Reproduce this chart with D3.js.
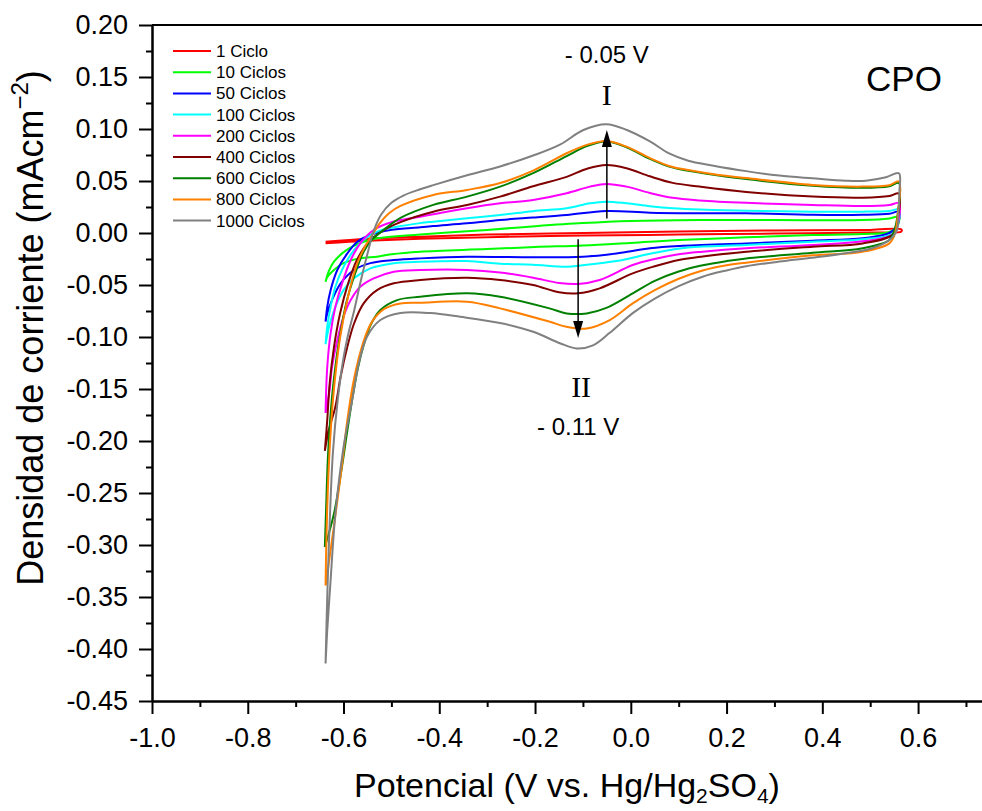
<!DOCTYPE html>
<html><head><meta charset="utf-8">
<script src="https://cdn.jsdelivr.net/npm/d3@7"></script>
<style>body{margin:0;background:#fff}svg{display:block}</style>
</head><body>
<svg id="chart" width="982" height="811"></svg>
<script>
// ---------- DATA ----------
const cycleLabels = ["1 Ciclo","10 Ciclos","50 Ciclos","100 Ciclos","200 Ciclos","400 Ciclos","600 Ciclos","800 Ciclos","1000 Ciclos"];
const cycleColors = ["#ff0000","#00ff00","#0000ff","#00ffff","#ff00ff","#800000","#008000","#ff8000","#808080"];

const xTickValues = [-1.0,-0.8,-0.6,-0.4,-0.2,0.0,0.2,0.4,0.6];
const xTickLabels = ["-1.0","-0.8","-0.6","-0.4","-0.2","0.0","0.2","0.4","0.6"];
const yTickValues = [0.20,0.15,0.10,0.05,0.00,-0.05,-0.10,-0.15,-0.20,-0.25,-0.30,-0.35,-0.40,-0.45];
const yTickLabels = ["0.20","0.15","0.10","0.05","0.00","-0.05","-0.10","-0.15","-0.20","-0.25","-0.30","-0.35","-0.40","-0.45"];

// each loop: forward (anodic) scan from -0.64 V to 0.56 V, then return scan
const cv1 = [[-0.6375,-0.0085],[-0.55,-0.0055],[-0.44,-0.0035],[-0.3,-0.0015],[-0.1,0.0],[0.1,0.0015],[0.3,0.0025],[0.5,0.003],[0.565,0.0035],
  [0.565,0.0015],[0.5,0.0005],[0.3,-0.0005],[0.1,-0.0015],[-0.1,-0.0025],[-0.3,-0.004],[-0.44,-0.0055],[-0.55,-0.0075],[-0.6375,-0.0099]];

const cv10 = [[-0.6375,-0.047],[-0.631,-0.037],[-0.62,-0.0276],[-0.603,-0.0196],[-0.582,-0.013],[-0.558,-0.0084],[-0.53,-0.0051],[-0.44,-0.0015],[-0.3,0.003],[-0.2,0.0065],[-0.1,0.0095],[0.0,0.0115],[0.144,0.0125],[0.3,0.0125],[0.484,0.0125],[0.54,0.014],[0.56,0.0157],
  [0.556,0.006],[0.54,0.001],[0.484,-0.001],[0.38,-0.002],[0.241,-0.0042],[0.102,-0.0067],[0.0,-0.0095],[-0.1,-0.012],[-0.2,-0.0135],[-0.3,-0.0155],[-0.44,-0.018],[-0.5,-0.0205],[-0.53,-0.0228],[-0.565,-0.0244],[-0.6,-0.029],[-0.62,-0.0356],[-0.634,-0.0426],[-0.6375,-0.047]];

const cv50 = [[-0.6375,-0.0853],[-0.634,-0.071],[-0.627,-0.055],[-0.613,-0.0356],[-0.592,-0.0196],[-0.571,-0.0084],[-0.544,-0.0019],[-0.502,0.0029],[-0.44,0.0055],[-0.4125,0.0067],[-0.342,0.0093],[-0.273,0.0125],[-0.204,0.0149],[-0.134,0.0173],[-0.051,0.0212],[0.04,0.0195],[0.144,0.019],[0.241,0.019],[0.38,0.0175],[0.484,0.0175],[0.54,0.0185],[0.56,0.0205],
  [0.557,0.008],[0.54,0.0],[0.484,-0.005],[0.38,-0.0074],[0.241,-0.01],[0.102,-0.0125],[0.04,-0.0147],[-0.03,-0.0196],[-0.1,-0.0228],[-0.204,-0.0234],[-0.342,-0.0228],[-0.44,-0.0244],[-0.495,-0.026],[-0.544,-0.029],[-0.578,-0.0356],[-0.606,-0.0484],[-0.624,-0.0645],[-0.634,-0.0773],[-0.6375,-0.0853]];

const cv100 = [[-0.6375,-0.107],[-0.634,-0.09],[-0.627,-0.071],[-0.617,-0.0517],[-0.6,-0.0324],[-0.578,-0.0164],[-0.558,-0.0067],[-0.53,0.0013],[-0.488,0.006],[-0.44,0.0095],[-0.4125,0.0109],[-0.342,0.0141],[-0.273,0.0173],[-0.204,0.021],[-0.134,0.0238],[-0.085,0.0286],[-0.051,0.0301],[-0.009,0.0286],[0.04,0.0258],[0.0875,0.0238],[0.144,0.0225],[0.241,0.0215],[0.38,0.0205],[0.484,0.0205],[0.54,0.0212],[0.56,0.0225],
  [0.557,0.008],[0.545,-0.001],[0.484,-0.006],[0.38,-0.0083],[0.241,-0.0115],[0.12,-0.014],[0.05,-0.019],[-0.03,-0.027],[-0.1,-0.031],[-0.134,-0.0324],[-0.204,-0.0305],[-0.273,-0.0295],[-0.342,-0.027],[-0.44,-0.0276],[-0.495,-0.029],[-0.544,-0.034],[-0.578,-0.0436],[-0.6,-0.0549],[-0.617,-0.071],[-0.63,-0.09],[-0.6375,-0.107]];

const cv200 = [[-0.6375,-0.173],[-0.634,-0.129],[-0.627,-0.0965],[-0.617,-0.071],[-0.603,-0.0484],[-0.585,-0.026],[-0.565,-0.0099],[-0.537,0.0029],[-0.495,0.011],[-0.44,0.0157],[-0.4125,0.018],[-0.342,0.0238],[-0.273,0.0285],[-0.204,0.0318],[-0.134,0.0382],[-0.085,0.0446],[-0.051,0.0472],[-0.009,0.0446],[0.04,0.0385],[0.0875,0.0338],[0.144,0.0313],[0.241,0.029],[0.38,0.027],[0.484,0.026],[0.54,0.027],[0.56,0.0286],
  [0.557,0.008],[0.545,-0.002],[0.484,-0.008],[0.38,-0.0115],[0.241,-0.0147],[0.15,-0.018],[0.1,-0.0205],[0.05,-0.025],[0.004,-0.0308],[-0.065,-0.0452],[-0.11,-0.049],[-0.15,-0.048],[-0.204,-0.043],[-0.273,-0.038],[-0.342,-0.0355],[-0.44,-0.0356],[-0.495,-0.0372],[-0.537,-0.0436],[-0.565,-0.0517],[-0.585,-0.0645],[-0.6,-0.0805],[-0.613,-0.103],[-0.624,-0.129],[-0.63,-0.154],[-0.6375,-0.173]];

const cv400 = [[-0.639,-0.2095],[-0.634,-0.18],[-0.629,-0.145],[-0.62,-0.11],[-0.607,-0.077],[-0.59,-0.048],[-0.572,-0.026],[-0.55,-0.0099],[-0.515,0.003],[-0.481,0.0105],[-0.4125,0.0205],[-0.342,0.027],[-0.273,0.035],[-0.204,0.045],[-0.134,0.054],[-0.09,0.062],[-0.051,0.0654],[-0.009,0.0623],[0.04,0.0545],[0.0875,0.0482],[0.144,0.0446],[0.241,0.0395],[0.38,0.035],[0.484,0.034],[0.54,0.0356],[0.56,0.038],
  [0.558,0.015],[0.548,-0.001],[0.484,-0.01],[0.38,-0.0132],[0.241,-0.018],[0.15,-0.0225],[0.1,-0.026],[0.05,-0.032],[0.004,-0.0388],[-0.065,-0.0532],[-0.11,-0.058],[-0.15,-0.057],[-0.204,-0.05],[-0.273,-0.0452],[-0.342,-0.043],[-0.44,-0.0452],[-0.495,-0.0484],[-0.53,-0.0549],[-0.558,-0.0677],[-0.578,-0.087],[-0.592,-0.1094],[-0.606,-0.138],[-0.617,-0.167],[-0.631,-0.19],[-0.639,-0.2095]];

const cv600 = [[-0.639,-0.302],[-0.636,-0.26],[-0.633,-0.22],[-0.628,-0.18],[-0.62,-0.14],[-0.608,-0.1],[-0.593,-0.065],[-0.575,-0.038],[-0.558,-0.018],[-0.54,-0.006],[-0.516,0.003],[-0.481,0.0145],[-0.4125,0.027],[-0.342,0.035],[-0.273,0.0446],[-0.204,0.0575],[-0.134,0.074],[-0.092,0.0835],[-0.051,0.088],[-0.009,0.0825],[0.04,0.0712],[0.08,0.0638],[0.12,0.0598],[0.18,0.0555],[0.241,0.0518],[0.38,0.0455],[0.484,0.0435],[0.54,0.045],[0.56,0.048],
  [0.558,0.02],[0.55,0.002],[0.54,-0.0067],[0.484,-0.0147],[0.38,-0.019],[0.241,-0.0245],[0.2,-0.027],[0.15,-0.031],[0.1,-0.037],[0.05,-0.046],[0.004,-0.058],[-0.051,-0.072],[-0.092,-0.0773],[-0.134,-0.0773],[-0.17,-0.0725],[-0.273,-0.0613],[-0.342,-0.058],[-0.44,-0.0613],[-0.488,-0.0645],[-0.523,-0.074],[-0.543,-0.088],[-0.558,-0.108],[-0.57,-0.13],[-0.58,-0.155],[-0.592,-0.19],[-0.605,-0.23],[-0.62,-0.27],[-0.639,-0.302]];

const cv800 = [[-0.6375,-0.339],[-0.636,-0.3],[-0.633,-0.25],[-0.628,-0.2],[-0.62,-0.15],[-0.607,-0.1],[-0.59,-0.06],[-0.572,-0.03],[-0.555,-0.013],[-0.54,-0.002],[-0.525,0.009],[-0.505,0.019],[-0.481,0.026],[-0.4125,0.0366],[-0.342,0.0414],[-0.273,0.048],[-0.204,0.06],[-0.134,0.0767],[-0.092,0.0847],[-0.051,0.0885],[-0.009,0.083],[0.04,0.072],[0.08,0.0645],[0.12,0.0605],[0.18,0.056],[0.241,0.0528],[0.38,0.0462],[0.484,0.0446],[0.54,0.046],[0.56,0.0495],
  [0.558,0.02],[0.552,0.0],[0.54,-0.01],[0.484,-0.018],[0.38,-0.0215],[0.241,-0.0285],[0.2,-0.031],[0.15,-0.036],[0.1,-0.044],[0.05,-0.055],[0.004,-0.0677],[-0.044,-0.0837],[-0.092,-0.0918],[-0.134,-0.0902],[-0.169,-0.0854],[-0.273,-0.0725],[-0.342,-0.0661],[-0.44,-0.067],[-0.481,-0.0677],[-0.515,-0.073],[-0.54,-0.085],[-0.555,-0.1],[-0.568,-0.12],[-0.58,-0.145],[-0.592,-0.18],[-0.605,-0.23],[-0.618,-0.275],[-0.63,-0.315],[-0.6375,-0.339]];

const cv1000 = [[-0.6375,-0.414],[-0.634,-0.35],[-0.629,-0.28],[-0.622,-0.21],[-0.612,-0.16],[-0.6,-0.12],[-0.589,-0.095],[-0.578,-0.075],[-0.565,-0.048],[-0.55,-0.02],[-0.537,0.002],[-0.521,0.018],[-0.50,0.029],[-0.475,0.036],[-0.44,0.042],[-0.4125,0.046],[-0.342,0.0555],[-0.273,0.064],[-0.204,0.0745],[-0.148,0.085],[-0.099,0.099],[-0.051,0.1046],[-0.008,0.099],[0.04,0.088],[0.08,0.0765],[0.12,0.0695],[0.17,0.065],[0.241,0.0595],[0.31,0.0552],[0.379,0.0526],[0.449,0.0503],[0.491,0.0503],[0.533,0.0536],[0.56,0.0574],
  [0.561,0.04],[0.559,0.02],[0.556,0.003],[0.54,-0.0067],[0.504,-0.0147],[0.449,-0.0195],[0.379,-0.0238],[0.31,-0.0275],[0.241,-0.032],[0.2,-0.036],[0.15,-0.042],[0.1,-0.051],[0.05,-0.063],[0.004,-0.077],[-0.044,-0.096],[-0.079,-0.108],[-0.113,-0.111],[-0.148,-0.106],[-0.204,-0.095],[-0.273,-0.0866],[-0.356,-0.0806],[-0.419,-0.077],[-0.481,-0.077],[-0.523,-0.0837],[-0.551,-0.0998],[-0.568,-0.125],[-0.582,-0.161],[-0.6,-0.206],[-0.617,-0.27],[-0.627,-0.334],[-0.634,-0.382],[-0.6375,-0.414]];

const cvSeries = [cv1, cv10, cv50, cv100, cv200, cv400, cv600, cv800, cv1000];

// peak annotations (potential, current from, current to)
const peakOx = {E:-0.05, from:0.014, to:0.099, label:"- 0.05 V", roman:"I"};
const peakRed = {E:-0.11, from:-0.006, to:-0.101, label:"- 0.11 V", roman:"II"};

// ---------- CHART ----------
const svg = d3.select("#chart");
const L = 152, R = 982, T = 25, B = 701;
const x = d3.scaleLinear().domain([-1.0, 0.7335]).range([L, R]);
const y = d3.scaleLinear().domain([-0.45, 0.20]).range([B, T]);
const FONT = "Liberation Sans, Arial, Helvetica, sans-serif";

svg.append("defs").append("clipPath").attr("id","clip")
  .append("rect").attr("x",L).attr("y",T).attr("width",R-L).attr("height",B-T);

const line = d3.line().x(d=>x(d[0])).y(d=>y(d[1])).curve(d3.curveCatmullRom.alpha(0.5));
const gLines = svg.append("g").attr("clip-path","url(#clip)");
cvSeries.forEach((s,i)=>{
  gLines.append("path").attr("d",line(s)).attr("fill","none")
    .attr("stroke",cycleColors[i]).attr("stroke-width",2).attr("stroke-linejoin","round");
});

// axes
const minorX = d3.range(-1.0, 0.7335, 0.1).filter(v=>Math.abs(Math.round(v*10)%2)===1);
const minorY = d3.range(-0.45, 0.2001, 0.025).filter(v=>Math.abs(Math.round(v*1000)%50)!==0);

const gx = svg.append("g").attr("transform",`translate(0,${B})`)
  .call(d3.axisBottom(x).tickValues(xTickValues).tickFormat((d,i)=>xTickLabels[i]).tickSize(13).tickSizeOuter(0).tickPadding(14));
const gxm = svg.append("g").attr("transform",`translate(0,${B})`)
  .call(d3.axisBottom(x).tickValues(minorX).tickFormat("").tickSize(6).tickSizeOuter(0));
const gy = svg.append("g").attr("transform",`translate(${L},0)`)
  .call(d3.axisLeft(y).tickValues(yTickValues).tickFormat((d,i)=>yTickLabels[i]).tickSize(13).tickSizeOuter(0).tickPadding(11));
const gym = svg.append("g").attr("transform",`translate(${L},0)`)
  .call(d3.axisLeft(y).tickValues(minorY).tickFormat("").tickSize(6).tickSizeOuter(0));
[gx,gxm,gy,gym].forEach(g=>{
  g.selectAll("path.domain").attr("stroke","#000").attr("stroke-width",2);
  g.selectAll(".tick line").attr("stroke","#000").attr("stroke-width",2);
  g.selectAll("text").attr("font-family",FONT).attr("font-size",27).attr("fill","#000");
});
// top border
svg.append("line").attr("x1",L).attr("x2",R).attr("y1",T).attr("y2",T).attr("stroke","#000").attr("stroke-width",2);

// axis titles
const xt = svg.append("text").attr("x",567).attr("y",797).attr("text-anchor","middle")
  .attr("font-family",FONT).attr("font-size",34).attr("fill","#000");
xt.append("tspan").text("Potencial (V vs. Hg/Hg");
xt.append("tspan").attr("font-size",21).attr("dy",6).text("2");
xt.append("tspan").attr("dy",-6).text("SO");
xt.append("tspan").attr("font-size",21).attr("dy",6).text("4");
xt.append("tspan").attr("dy",-6).text(")");

const yt = svg.append("text").attr("transform","translate(43,328) rotate(-90)").attr("text-anchor","middle")
  .attr("font-family",FONT).attr("font-size",36).attr("fill","#000");
yt.append("tspan").text("Densidad de corriente (mAcm");
yt.append("tspan").attr("font-size",24).attr("dy",-15).text("\u22122");
yt.append("tspan").attr("dy",15).text(")");

// legend
const lg = svg.append("g");
cycleLabels.forEach((lab,i)=>{
  const yy = 51 + i*21.2;
  lg.append("line").attr("x1",173).attr("x2",211).attr("y1",yy).attr("y2",yy)
    .attr("stroke",cycleColors[i]).attr("stroke-width",2);
  lg.append("text").attr("x",216).attr("y",yy+6).attr("font-family",FONT).attr("font-size",17)
    .attr("fill","#000").text(lab);
});

// arrows
function arrow(p){
  const xs = x(p.E), y0 = y(p.from), y1 = y(p.to);
  const dir = y1 < y0 ? 1 : -1; // 1 = pointing up
  const headL = 17, headW = 5;
  svg.append("line").attr("x1",xs).attr("x2",xs).attr("y1",y0).attr("y2",y1+dir*headL*0.6)
    .attr("stroke","#000").attr("stroke-width",1.5);
  svg.append("path").attr("d",`M${xs},${y1} L${xs-headW},${y1+dir*headL} L${xs+headW},${y1+dir*headL} Z`).attr("fill","#000");
}
arrow(peakOx); arrow(peakRed);

// labels
svg.append("text").attr("x",x(peakOx.E)).attr("y",63).attr("text-anchor","middle")
  .attr("font-family",FONT).attr("font-size",24).attr("fill","#000").text(peakOx.label);
svg.append("text").attr("x",x(peakOx.E)).attr("y",105).attr("text-anchor","middle")
  .attr("font-family","Liberation Serif, Times New Roman, serif").attr("font-size",30).attr("fill","#000").text(peakOx.roman);
svg.append("text").attr("x",x(peakRed.E)+3).attr("y",397).attr("text-anchor","middle")
  .attr("font-family","Liberation Serif, Times New Roman, serif").attr("font-size",30).attr("fill","#000").text(peakRed.roman);
svg.append("text").attr("x",x(peakRed.E)).attr("y",435).attr("text-anchor","middle")
  .attr("font-family",FONT).attr("font-size",24).attr("fill","#000").text(peakRed.label);
svg.append("text").attr("x",904).attr("y",91).attr("text-anchor","middle")
  .attr("font-family",FONT).attr("font-size",35).attr("fill","#000").text("CPO");
</script>
</body></html>
